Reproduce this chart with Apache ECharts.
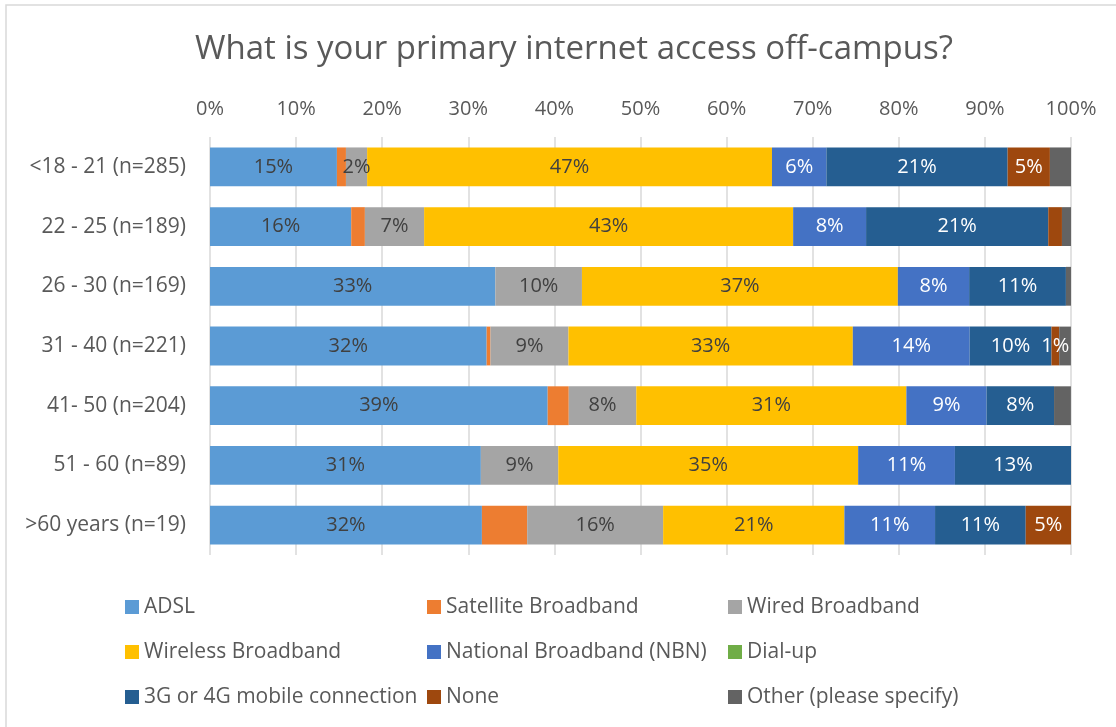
<!DOCTYPE html>
<html>
<head>
<meta charset="utf-8">
<script src="https://cdn.jsdelivr.net/npm/echarts@6/dist/echarts.min.js"></script>
<style>
html,body{margin:0;padding:0;background:#fff;}
#chart{width:1116px;height:727px;}
</style>
</head>
<body>
<div id="chart"></div>
<script>
// ---- data ----
const titleText = 'What is your primary internet access off-campus?';
const categories = ['<18 - 21 (n=285)', '22 - 25 (n=189)', '26 - 30 (n=169)', '31 - 40 (n=221)', '41- 50 (n=204)', '51 - 60 (n=89)', '>60 years (n=19)'];
const seriesNames = ['ADSL', 'Satellite Broadband', 'Wired Broadband', 'Wireless Broadband', 'National Broadband (NBN)', 'Dial-up', '3G or 4G mobile connection', 'None', 'Other (please specify)'];
const adsl      = [14.74, 16.40, 33.14, 32.13, 39.22, 31.46, 31.58];
const satellite = [1.05, 1.59, 0, 0.45, 2.45, 0, 5.26];
const wired     = [2.46, 6.88, 10.06, 9.05, 7.84, 8.99, 15.79];
const wireless  = [47.02, 42.86, 36.69, 33.03, 31.37, 34.83, 21.05];
const nbn       = [6.32, 8.47, 8.28, 13.57, 9.31, 11.24, 10.53];
const dialup    = [0, 0, 0, 0, 0, 0, 0];
const mobile    = [21.05, 21.16, 11.24, 9.50, 7.84, 13.48, 10.53];
const none      = [4.91, 1.59, 0, 0.90, 0, 0, 5.26];
const other     = [2.46, 1.06, 0.59, 1.36, 1.96, 0, 0];
const xTicks = [0, 10, 20, 30, 40, 50, 60, 70, 80, 90, 100];
// label rules (which cells carry a data label in the original)
const noLabelSeries = ['Satellite Broadband', 'Dial-up', 'Other (please specify)'];
const extraLabels = [['Wired Broadband', 0], ['None', 3]];
const labelMin = 4.5;

// ---- styling ----
const colors = ['#5B9BD5', '#ED7D31', '#A5A5A5', '#FFC000', '#4472C4', '#70AD47', '#255E91', '#9E480E', '#636363'];
const lightLabel = ['National Broadband (NBN)', '3G or 4G mobile connection', 'None'];
const FONT = 'Open Sans';
const values = [adsl, satellite, wired, wireless, nbn, dialup, mobile, none, other];

const series = seriesNames.map((name, si) => ({
  name: name,
  type: 'bar',
  stack: 'total',
  barCategoryGap: '35%',
  itemStyle: { color: colors[si] },
  label: {
    show: true,
    position: 'inside',
    fontFamily: FONT,
    fontSize: 20,
    color: lightLabel.includes(name) ? '#ffffff' : '#404040',
    formatter: p => Math.round(p.value) + '%'
  },
  emphasis: { disabled: true },
  data: values[si].map((v, ci) => {
    let show = !noLabelSeries.includes(name) && v >= labelMin;
    if (extraLabels.some(e => e[0] === name && e[1] === ci)) show = true;
    return { value: v, label: { show: show } };
  })
}));

const legendCols = [
  ['ADSL', 'Wireless Broadband', '3G or 4G mobile connection'],
  ['Satellite Broadband', 'National Broadband (NBN)', 'None'],
  ['Wired Broadband', 'Dial-up', 'Other (please specify)']
];
const legendLeft = [125, 427, 728];
const legends = legendCols.map((col, i) => ({
  orient: 'vertical',
  left: legendLeft[i],
  top: 595,
  padding: 0,
  itemWidth: 14,
  itemHeight: 14,
  itemGap: 21,
  selectedMode: false,
  icon: 'rect',
  textStyle: { fontFamily: FONT, fontSize: 21, color: '#595959', lineHeight: 24 },
  data: col
}));

const chart = echarts.init(document.getElementById('chart'), null, { renderer: 'canvas' });
chart.setOption({
  animation: false,
  color: colors,
  title: {
    text: titleText,
    left: 569,
    top: 28,
    textAlign: 'center',
    textStyle: { fontFamily: FONT, fontSize: 33, fontWeight: 'normal', color: '#595959' }
  },
  graphic: [{
    type: 'rect',
    shape: { x: 6, y: 5, width: 1140, height: 760 },
    style: { fill: 'none', stroke: '#d9d9d9', lineWidth: 1.5 },
    silent: true
  }],
  legend: legends,
  grid: { left: 210, right: 45, top: 137, height: 418, containLabel: false },
  xAxis: {
    type: 'value',
    position: 'top',
    min: 0,
    max: 100,
    interval: 10,
    axisLine: { show: false },
    axisTick: { show: false },
    splitLine: { show: true, lineStyle: { color: '#d9d9d9', width: 1.5 } },
    axisLabel: {
      margin: 18,
      fontFamily: FONT,
      fontSize: 20,
      color: '#595959',
      formatter: v => xTicks.includes(v) ? v + '%' : ''
    }
  },
  yAxis: {
    type: 'category',
    inverse: true,
    data: categories,
    axisLine: { show: false },
    axisTick: { show: false },
    axisLabel: { margin: 24, fontFamily: FONT, fontSize: 21, color: '#595959' }
  },
  series: series
});
</script>
</body>
</html>
